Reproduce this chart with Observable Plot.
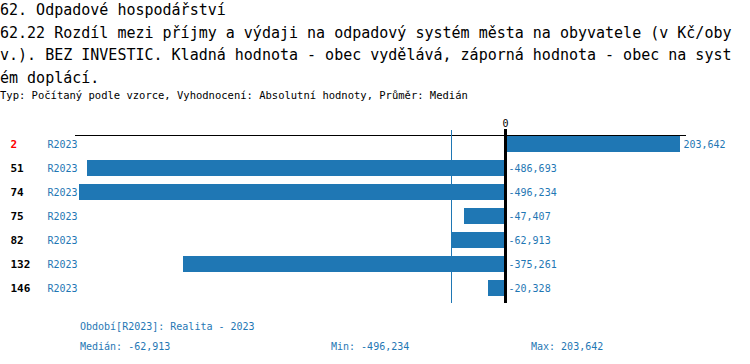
<!DOCTYPE html>
<html>
<head>
<meta charset="utf-8">
<script src="https://cdn.jsdelivr.net/npm/d3@7"></script>
<script src="https://cdn.jsdelivr.net/npm/@observablehq/plot@0.6"></script>
<style>
  body { margin: 0; background: #fff; }
  #wrap { width: 750px; font-family: "DejaVu Sans Mono", monospace; }
  #titles { height: 110px; }
  .t { font-size: 15px; line-height: 22.5px; color: #000; margin-top: -1px; white-space: pre; }
  .sub { font-size: 10.5px; line-height: 12px; color: #000; white-space: pre; }
  #footer { position: relative; height: 48px; font-size: 10px; color: #1f77b4; }
  #footer span { position: absolute; white-space: pre; }
</style>
</head>
<body>
<div id="wrap">
  <div id="titles">
    <div class="t">62. Odpadové hospodářství
62.22 Rozdíl mezi příjmy a výdaji na odpadový systém města na obyvatele (v Kč/oby
v.). BEZ INVESTIC. Kladná hodnota - obec vydělává, záporná hodnota - obec na syst
ém doplácí.</div>
    <div class="sub">Typ: Počítaný podle vzorce, Vyhodnocení: Absolutní hodnoty, Průměr: Medián</div>
  </div>
  <div id="chart"></div>
  <div id="footer"></div>
</div>
<script>
const ids = ["2", "51", "74", "75", "82", "132", "146"];
const values = [203642, -486693, -496234, -47407, -62913, -375261, -20328];
const periods = ["R2023", "R2023", "R2023", "R2023", "R2023", "R2023", "R2023"];
const highlightId = "2";
const periodLabel = "Období[R2023]: Realita - 2023";

const data = ids.map((id, i) => ({id, value: values[i], period: periods[i]}));
const fmt = v => v.toLocaleString("en-US");
const med = d3.median(values);
const mn = d3.min(values);
const mx = d3.max(values);
const blue = "#1f77b4";

const plot = Plot.plot({
  width: 750,
  height: 205,
  marginTop: 23,
  marginBottom: 14,
  marginLeft: 75,
  marginRight: 65,
  style: {fontFamily: "DejaVu Sans Mono, monospace", fontSize: "10px", background: "white"},
  x: {domain: [-500500, 209500], axis: null},
  y: {type: "band", domain: ids, paddingInner: 0.35, paddingOuter: 0.175, axis: null},
  marks: [
    Plot.frame({anchor: "top", dy: 3, stroke: "black", strokeWidth: 1, shapeRendering: "crispEdges"}),
    Plot.axisX({anchor: "top", ticks: [0], tickSize: 0, tickPadding: 6, label: null, tickFormat: d => String(d), fill: "black"}),
    Plot.barX(data, {x: "value", y: "id", fill: blue, shapeRendering: "crispEdges"}),
    Plot.ruleX([med], {stroke: blue, strokeWidth: 1, insetTop: -2, insetBottom: -3, shapeRendering: "crispEdges"}),
    Plot.ruleX([0], {stroke: "black", strokeWidth: 3, insetTop: -3, insetBottom: -3, shapeRendering: "crispEdges"}),
    Plot.text(data, {y: "id", text: "id", frameAnchor: "left", dx: -65, textAnchor: "start",
      fontWeight: "bold", fontSize: 11, fill: d => d.id === highlightId ? "red" : "black"}),
    Plot.text(data, {y: "id", text: "period", frameAnchor: "left", dx: -28, textAnchor: "start", fill: blue}),
    Plot.text(data, {x: d => Math.max(0, d.value), y: "id", text: d => fmt(d.value), dx: 3, textAnchor: "start", fill: blue})
  ]
});
document.getElementById("chart").appendChild(plot);

const footer = document.getElementById("footer");
const items = [
  [periodLabel, 80, 7],
  ["Medián: " + fmt(med), 80, 27],
  ["Min: " + fmt(mn), 331, 27],
  ["Max: " + fmt(mx), 531, 27]
];
for (const [t, x, y] of items) {
  const s = document.createElement("span");
  s.textContent = t;
  s.style.left = x + "px";
  s.style.top = y + "px";
  footer.appendChild(s);
}
</script>
</body>
</html>
